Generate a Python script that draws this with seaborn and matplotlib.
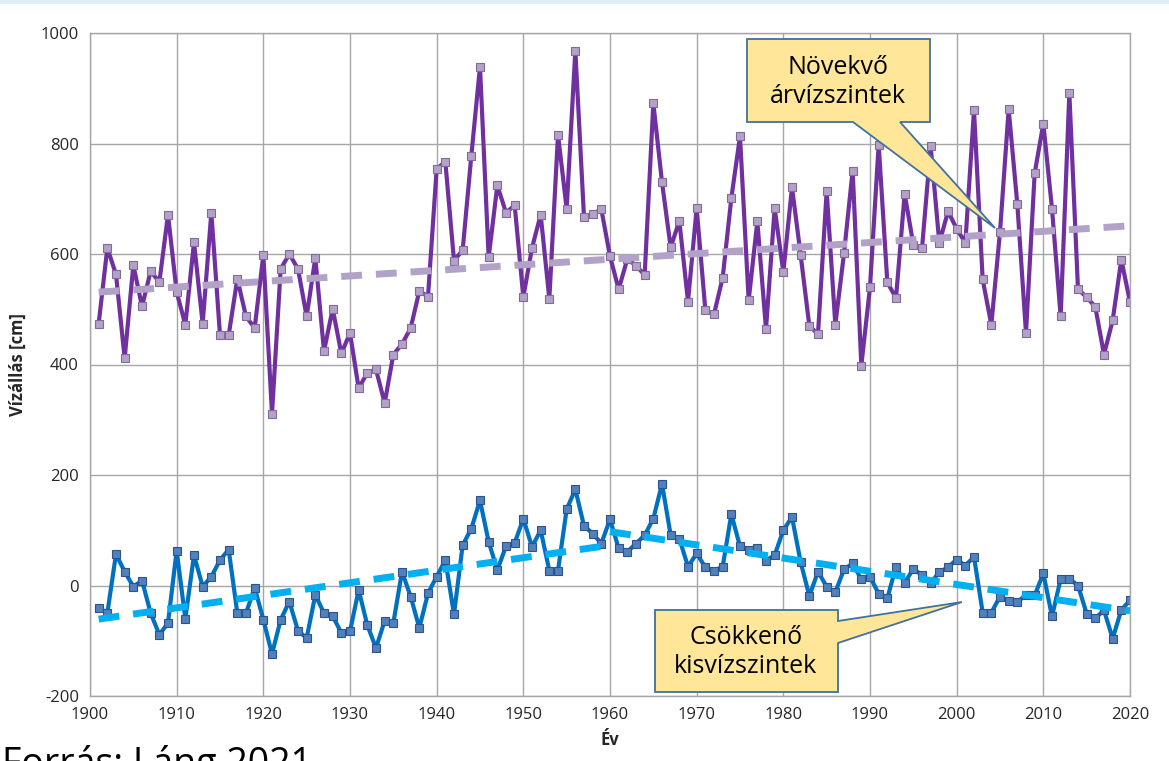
import numpy as np
import pandas as pd
import matplotlib.pyplot as plt
import seaborn as sns
from matplotlib.patches import Polygon, Rectangle

# --- adatok (leolvasva) ---
years = list(range(1901, 2021))

arviz = [
    474, 611, 563, 411, 580, 505, 569, 549, 671, 531,
    472, 621, 474, 675, 453, 453, 555, 487, 466, 598,
    311, 573, 600, 573, 487, 593, 424, 501, 420, 457,
    357, 385, 391, 330, 418, 437, 466, 533, 523, 754,
    767, 588, 607, 778, 939, 594, 724, 675, 688, 522,
    611, 671, 519, 816, 682, 968, 667, 672, 681, 596,
    536, 591, 579, 562, 873, 730, 612, 660, 514, 683,
    499, 491, 557, 701, 813, 516, 659, 464, 683, 567,
    721, 598, 470, 455, 714, 472, 601, 751, 398, 540,
    798, 549, 520, 709, 617, 610, 795, 620, 677, 646,
    620, 860, 554, 472, 640, 862, 690, 457, 746, 836,
    682, 487, 891, 536, 522, 504, 418, 480, 590, 513,
]

kisviz = [
    -40, -50, 57, 25, -2, 9, -50, -89, -68, 63,
    -60, 55, -2, 16, 46, 65, -50, -50, -4, -62,
    -124, -62, -29, -82, -95, -17, -50, -55, -86, -83,
    -8, -72, -113, -64, -68, 25, -20, -77, -14, 16,
    46, -52, 73, 103, 154, 79, 28, 71, 77, 121,
    70, 100, 27, 27, 138, 174, 108, 94, 76, 120,
    67, 61, 76, 91, 121, 184, 91, 85, 34, 58,
    33, 27, 34, 129, 71, 64, 67, 45, 55, 100,
    124, 42, -19, 25, -2, -12, 29, 40, 11, 16,
    -15, -23, 34, 5, 30, 19, 5, 24, 33, 47,
    36, 52, -49, -49, -20, -28, -30, -17, -18, 22,
    -56, 12, 12, 0, -51, -59, -45, -96, -44, -27,
]

split_year = 1960  # a kisvíz trend két szakaszra bontva

df = pd.DataFrame({'ev': years, 'arviz': arviz, 'kisviz': kisviz})

# trendvonalak (lineáris illesztés)
p_up = np.polyfit(df['ev'], df['arviz'], 1)
trend_up = pd.DataFrame({'ev': df['ev'], 'y': np.polyval(p_up, df['ev'])})

d1 = df[df['ev'] <= split_year]
d2 = df[df['ev'] >= split_year]
p1 = np.polyfit(d1['ev'], d1['kisviz'], 1)
p2 = np.polyfit(d2['ev'], d2['kisviz'], 1)
trend_lo1 = pd.DataFrame({'ev': d1['ev'], 'y': np.polyval(p1, d1['ev'])})
trend_lo2 = pd.DataFrame({'ev': d2['ev'], 'y': np.polyval(p2, d2['ev'])})

sns.set_theme(style='white')
plt.rcParams['font.family'] = ['Open Sans', 'DejaVu Sans']
plt.rcParams['axes.unicode_minus'] = False

W, H = 1169, 761
fig = plt.figure(figsize=(W / 100, H / 100), dpi=100)
ax = fig.add_axes([90 / W, 1 - 696 / H, (1130 - 90) / W, (696 - 33) / H])

grid_c = '#A6A6A6'

sns.lineplot(data=trend_up, x='ev', y='y', ax=ax, color='#B3A2C7',
             lw=5, linestyle=(0, (3, 2)), zorder=3)
sns.lineplot(data=df, x='ev', y='arviz', ax=ax, color='#7030A0', lw=3,
             marker='s', markersize=6, markerfacecolor='#B3A2C7',
             markeredgecolor='#7F6A9A', markeredgewidth=0.8, zorder=2)

sns.lineplot(data=df, x='ev', y='kisviz', ax=ax, color='#0070C0', lw=3,
             marker='s', markersize=6, markerfacecolor='#4F81BD',
             markeredgecolor='#2F528F', markeredgewidth=0.8, zorder=2)
for t in (trend_lo1, trend_lo2):
    sns.lineplot(data=t, x='ev', y='y', ax=ax, color='#00B0F0',
                 lw=5, linestyle=(0, (3, 2)), zorder=3)

ax.set_xlim(1900, 2020)
ax.set_ylim(-200, 1000)
ax.set_xticks(range(1900, 2021, 10))
ax.set_yticks(range(-200, 1001, 200))
ax.grid(True, color=grid_c, lw=1)
for s in ax.spines.values():
    s.set_color(grid_c)
    s.set_linewidth(1)
ax.tick_params(axis='both', length=0, labelsize=12, colors='#262626', pad=8)
ax.set_xlabel('Év', fontsize=12, fontweight='bold', labelpad=6)
ax.set_ylabel('Vízállás [cm]', fontsize=12, fontweight='bold', labelpad=10)


def px(x, y):
    return (x / W, 1 - y / H)


callout_c = '#FFE699'
edge_c = '#41719C'

box1 = [(747, 39), (930, 39), (930, 122), (900, 122), (995, 228),
        (853, 122), (747, 122)]
fig.patches.append(Polygon([px(*p) for p in box1], closed=True,
                           transform=fig.transFigure, facecolor=callout_c,
                           edgecolor=edge_c, lw=1.3, zorder=10))
fig.text(*px(838, 82), 'Növekvő\nárvízszintek', ha='center', va='center',
         fontsize=18, linespacing=1.25, color='black', zorder=11)

box2 = [(655, 610), (838, 610), (838, 621), (962, 602), (838, 643),
        (838, 692), (655, 692)]
fig.patches.append(Polygon([px(*p) for p in box2], closed=True,
                           transform=fig.transFigure, facecolor=callout_c,
                           edgecolor=edge_c, lw=1.3, zorder=10))
fig.text(*px(746, 652), 'Csökkenő\nkisvízszintek', ha='center', va='center',
         fontsize=18, linespacing=1.25, color='black', zorder=11)

# felső sáv
fig.patches.append(Rectangle((0, 1 - 4 / H), 1, 4 / H, transform=fig.transFigure,
                             facecolor='#DDEEF7', edgecolor='none', zorder=0))

# a forrás felirat a képen is le van vágva az alján
fig.text(*px(2, 745), 'Forrás: Láng 2021', ha='left', va='top',
         fontsize=27, color='black')

plt.savefig('out.png', dpi=100)
